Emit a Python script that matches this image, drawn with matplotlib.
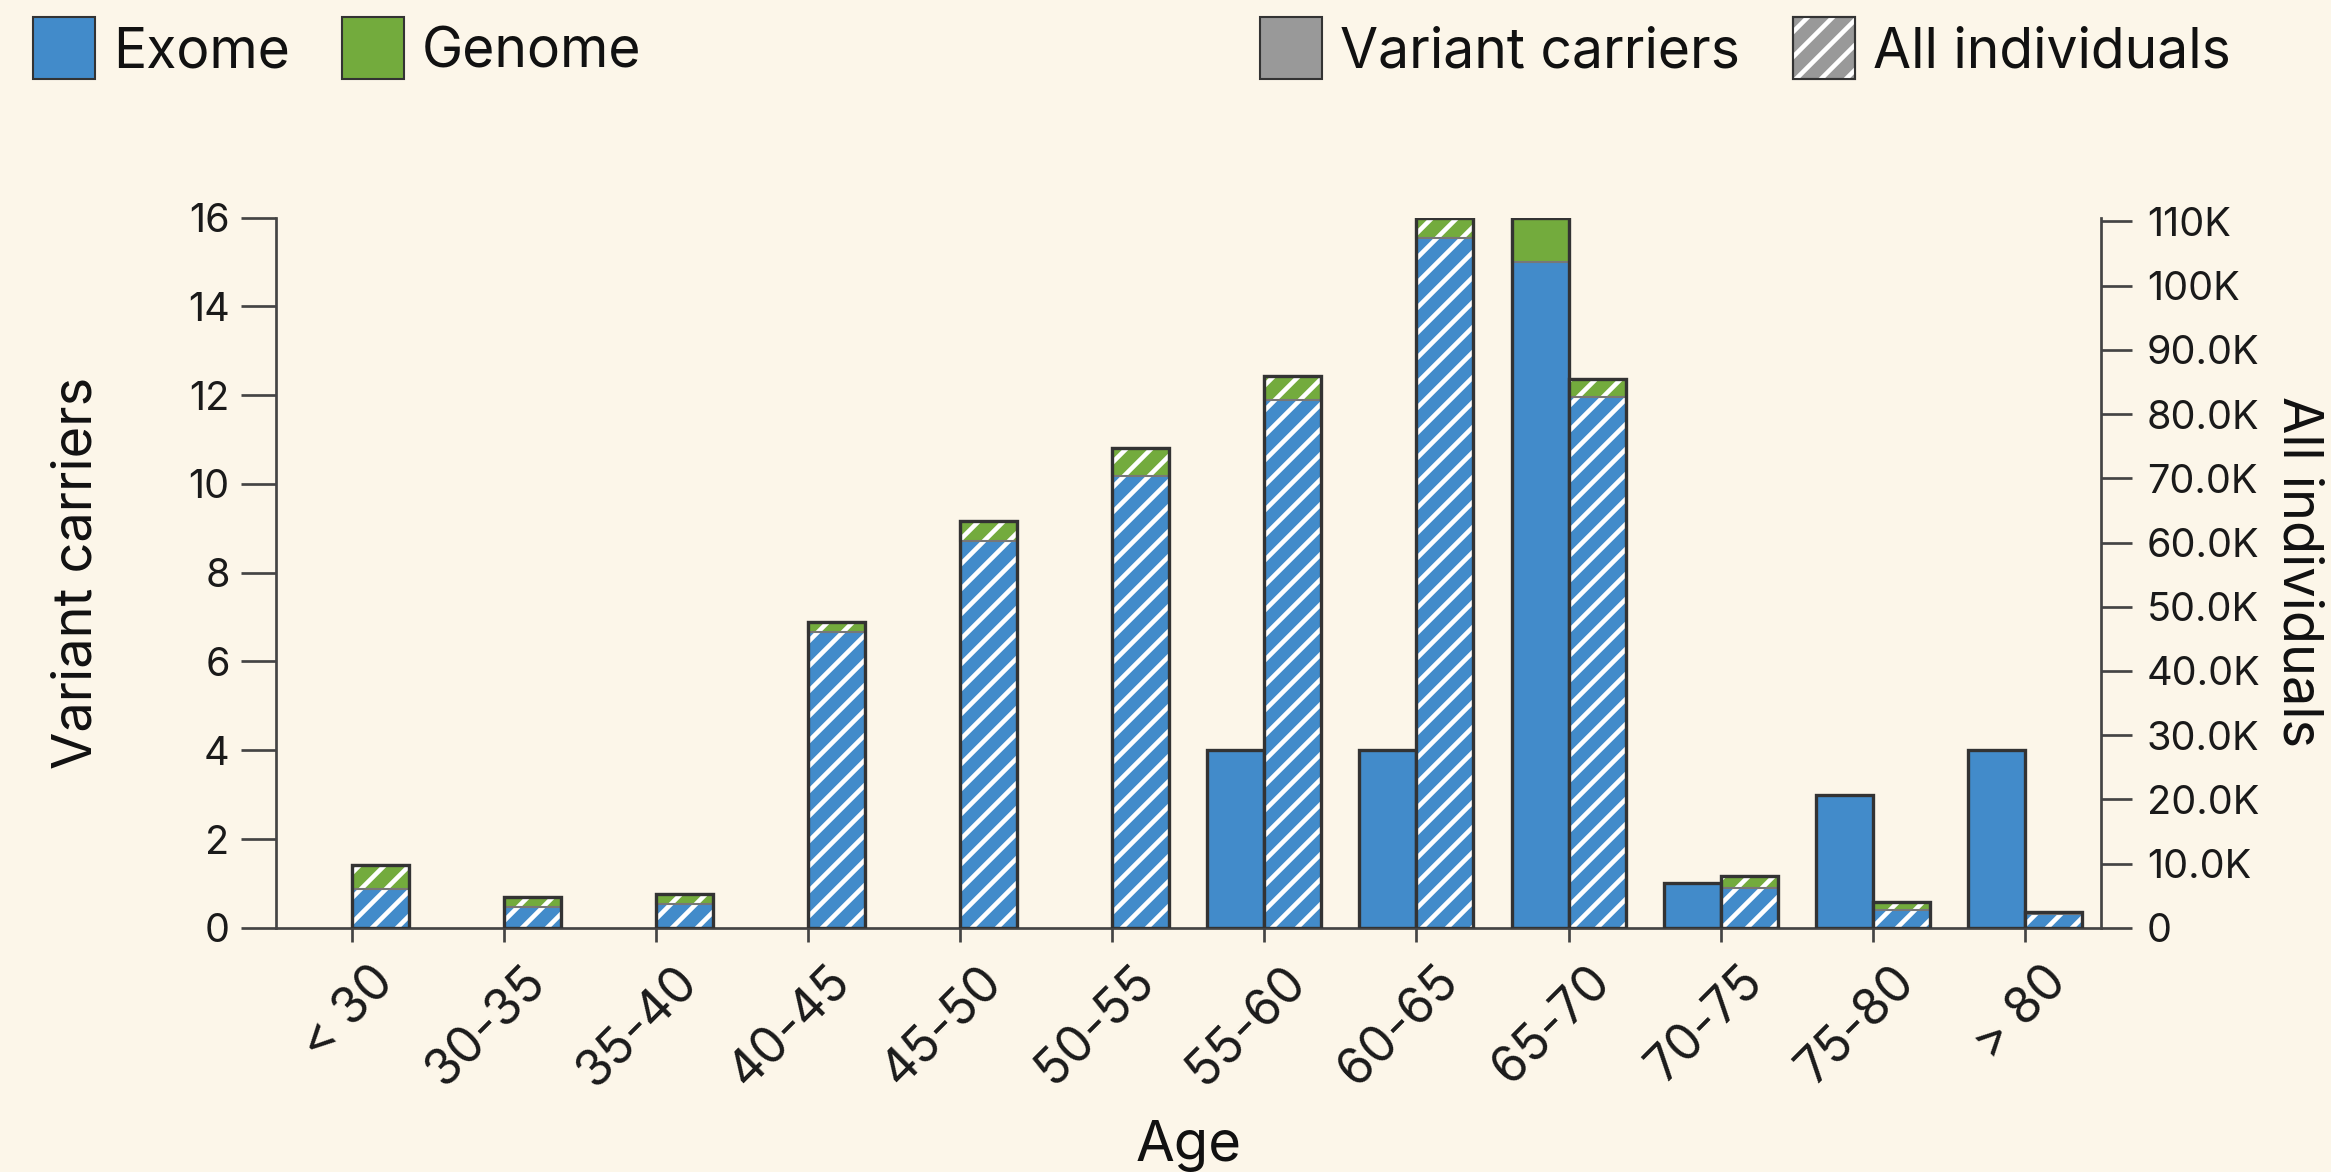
import matplotlib
matplotlib.use("Agg")
import matplotlib.pyplot as plt
import matplotlib.transforms as mtransforms
from matplotlib.patches import Rectangle
import numpy as np

# ---------------- data ----------------
age_bins = ["< 30", "30-35", "35-40", "40-45", "45-50", "50-55",
            "55-60", "60-65", "65-70", "70-75", "75-80", "> 80"]
carriers_exome = [0, 0, 0, 0, 0, 0, 4, 4, 15, 1, 3, 4]
carriers_genome = [0, 0, 0, 0, 0, 0, 0, 0, 1, 0, 0, 0]
all_exome = [6000, 3300, 3700, 46000, 60300, 70400, 82200, 107400, 82600, 6200, 2800, 2200]
all_genome = [3800, 1500, 1600, 1700, 3100, 4300, 3700, 3200, 2900, 1900, 1200, 200]
left_ticks = [0, 2, 4, 6, 8, 10, 12, 14, 16]
right_ticks = [0, 10000, 20000, 30000, 40000, 50000, 60000, 70000, 80000, 90000, 100000, 110000]
right_tick_labels = ["0", "10.0K", "20.0K", "30.0K", "40.0K", "50.0K", "60.0K",
                     "70.0K", "80.0K", "90.0K", "100K", "110K"]
legend_colors = ["Exome", "Genome"]
legend_types = ["Variant carriers", "All individuals"]

# ---------------- style ----------------
BG = "#FCF6E9"
BLUE = "#428BCA"
GREEN = "#73AB3D"
GRAY = "#999999"
DARK = "#333333"
SPINE = "#444444"
FONT = ["Inter", "DejaVu Sans"]

plt.rcParams["font.family"] = FONT
plt.rcParams["hatch.linewidth"] = 2.2

W, H = 2331, 1172
DPI = 150
fig = plt.figure(figsize=(W / DPI, H / DPI), dpi=DPI, facecolor=BG)

x0, x1 = 275.5, 2101.0
y0, y1 = 927.8, 217.6
ax = fig.add_axes([x0 / W, (H - y0) / H, (x1 - x0) / W, (y0 - y1) / H])
ax.set_facecolor("none")
ax2 = ax.twinx()
ax2.set_facecolor("none")

n = len(age_bins)
centers = np.arange(n) + 0.5
w = 0.375

c_ex = np.array(carriers_exome, dtype=float)
c_ge = np.array(carriers_genome, dtype=float)
a_ex = np.array(all_exome, dtype=float)
a_ge = np.array(all_genome, dtype=float)
c_tot = c_ex + c_ge
a_tot = a_ex + a_ge

HATCH = "//"

# variant carriers (solid)
ax.bar(centers - w / 2, c_ex, w, color=BLUE, linewidth=0, zorder=2)
ax.bar(centers - w / 2, c_ge, w, bottom=c_ex, color=GREEN, linewidth=0, zorder=2)
mask_c = c_ge > 0
ax.bar((centers - w / 2)[mask_c], c_ge[mask_c], w, bottom=c_ex[mask_c], fill=False,
       edgecolor="#777777", linewidth=1.0, zorder=3)
mask_ct = c_tot > 0
ax.bar((centers - w / 2)[mask_ct], c_tot[mask_ct], w, fill=False,
       edgecolor=DARK, linewidth=1.6, zorder=4)

# all individuals (hatched)
ax2.bar(centers + w / 2, a_ex, w, color=BLUE, edgecolor="white", hatch=HATCH,
        linewidth=0, zorder=2)
ax2.bar(centers + w / 2, a_ge, w, bottom=a_ex, color=GREEN, edgecolor="white",
        hatch=HATCH, linewidth=0, zorder=2)
ax2.bar(centers + w / 2, a_ge, w, bottom=a_ex, fill=False,
        edgecolor="#777777", linewidth=1.0, zorder=3)
ax2.bar(centers + w / 2, a_tot, w, fill=False, edgecolor=DARK, linewidth=1.6, zorder=4)

ax.set_xlim(0, n)
ax.set_ylim(0, 16)
ax2.set_ylim(0, a_tot.max())

# spines
for a in (ax, ax2):
    a.spines["top"].set_visible(False)
ax.spines["right"].set_visible(False)
ax2.spines["left"].set_visible(False)
ax2.spines["bottom"].set_visible(False)
for s in (ax.spines["left"], ax.spines["bottom"], ax2.spines["right"]):
    s.set_color(SPINE)
    s.set_linewidth(1.3)

ax.set_yticks(left_ticks)
ax.set_yticklabels([str(t) for t in left_ticks])
ax.tick_params(axis="y", length=17, width=1.3, pad=5, labelsize=19,
               color=SPINE, labelcolor="#1a1a1a")
ax2.set_yticks(right_ticks)
ax2.set_yticklabels(right_tick_labels)
ax2.tick_params(axis="y", length=15, width=1.3, pad=7, labelsize=19,
                color=SPINE, labelcolor="#1a1a1a")

ax.set_xticks(centers)
ax.set_xticklabels(age_bins)
ax.tick_params(axis="x", length=6.5, width=1.3, pad=8, labelsize=24,
               color=SPINE, labelcolor="#1a1a1a")
offset = mtransforms.ScaledTranslation(18 / DPI, 0, fig.dpi_scale_trans)
for lbl in ax.get_xticklabels():
    lbl.set_rotation(45)
    lbl.set_ha("right")
    lbl.set_va("top")
    lbl.set_rotation_mode("anchor")
    lbl.set_transform(lbl.get_transform() + offset)

# axis titles
fig.text(77 / W, 1 - 573 / H, "Variant carriers", rotation=90, ha="center",
         va="center", fontsize=26, color="#111111")
fig.text(2298 / W, 1 - 572 / H, "All individuals", rotation=270, ha="center",
         va="center", fontsize=26, color="#111111")
fig.text(((x0 + x1) / 2) / W, 1 - 1146 / H, "Age", ha="center", va="center",
         fontsize=27, color="#111111")

# legend (manual, figure coordinates)
def add_legend_item(px, label, face, hatch=None):
    r = Rectangle((px / W, 1 - 79 / H), 62 / W, 62 / H, transform=fig.transFigure,
                  facecolor=face, edgecolor=DARK, linewidth=1.0)
    fig.add_artist(r)
    if hatch:
        rh = Rectangle((px / W, 1 - 79 / H), 62 / W, 62 / H, transform=fig.transFigure,
                       facecolor="none", edgecolor="white", hatch=hatch, linewidth=0)
        fig.add_artist(rh)
        ro = Rectangle((px / W, 1 - 79 / H), 62 / W, 62 / H, transform=fig.transFigure,
                       facecolor="none", edgecolor=DARK, linewidth=1.0)
        fig.add_artist(ro)
    fig.text((px + 80) / W, 1 - 52 / H, label, ha="left", va="center",
             fontsize=26.5, color="#111111")

add_legend_item(33, legend_colors[0], BLUE)
add_legend_item(342, legend_colors[1], GREEN)
add_legend_item(1260, legend_types[0], GRAY)
add_legend_item(1793, legend_types[1], GRAY, hatch=HATCH)

fig.savefig("out.png", dpi=DPI, facecolor=BG)
